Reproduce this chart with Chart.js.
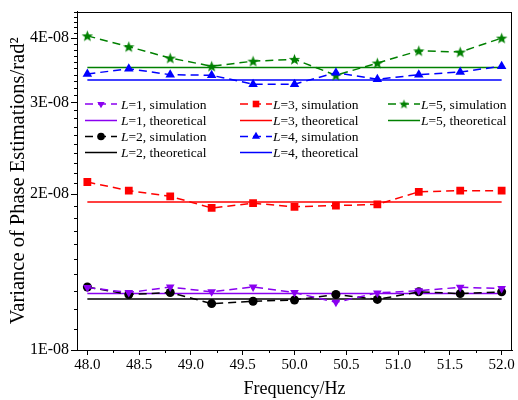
<!DOCTYPE html>
<html><head><meta charset="utf-8">
<script src="https://cdn.jsdelivr.net/npm/chart.js@4"></script>
<style>html,body{margin:0;padding:0;background:#fff}#wrap{width:518px;height:400px}</style>
</head><body><div id="wrap"><canvas id="c"></canvas></div>
<script>
// values in units of 1E-08
const freq=[48.0,48.4,48.8,49.2,49.6,50.0,50.4,50.8,51.2,51.6,52.0];
const simL1=[1.320,1.291,1.323,1.295,1.323,1.291,1.236,1.289,1.302,1.321,1.314];
const simL2=[1.323,1.280,1.291,1.229,1.242,1.249,1.280,1.252,1.295,1.285,1.295];
const simL3=[2.11,2.03,1.98,1.88,1.92,1.89,1.90,1.91,2.02,2.03,2.03];
const simL4=[3.41,3.49,3.40,3.39,3.26,3.26,3.43,3.33,3.40,3.44,3.53];
const simL5=[4.04,3.85,3.66,3.53,3.61,3.64,3.39,3.58,3.78,3.76,4.00];
const theoryL=[1.285,1.254,1.93,3.32,3.51];
const unit=1e-8;
const xTicks=[48.0,48.5,49.0,49.5,50.0,50.5,51.0,51.5,52.0];
const yTicks=[1,2,3,4];
const colors=['#8a00f0','#000000','#ff0000','#0000ff','#008000'];
const FONT='"Liberation Serif", "Times New Roman", serif';

function starImg(col,R){
  const s=Math.ceil(R*2+1),c=document.createElement('canvas');c.width=s;c.height=s;
  const g=c.getContext('2d');g.fillStyle=col;g.beginPath();
  for(let i=0;i<10;i++){const r=i%2?R*0.42:R,a=-Math.PI/2+i*Math.PI/5;
    g.lineTo(s/2+r*Math.cos(a),s/2+R*0.08+r*Math.sin(a));}
  g.closePath();g.fill();return c;
}
const star=starImg(colors[4],6);
const starSmall=starImg(colors[4],5);
const marks=[
  {style:'triangle',rot:180,r:5},
  {style:'circle',rot:0,r:4.5},
  {style:'rect',rot:0,r:5.5},
  {style:'triangle',rot:0,r:5.5},
  {style:star,rot:0,r:6}
];
const sims=[simL1,simL2,simL3,simL4,simL5];

const datasets=[];
sims.forEach((s,i)=>{
  datasets.push({label:'L='+(i+1)+', simulation',data:freq.map((f,j)=>({x:f,y:s[j]*unit})),
    borderColor:colors[i],backgroundColor:colors[i],borderWidth:1.5,borderDash:[8,5],
    pointStyle:marks[i].style,pointRotation:marks[i].rot,pointRadius:marks[i].r,
    pointBorderWidth:0,sim:true,mk:i,order:0});
  datasets.push({label:'L='+(i+1)+', theoretical',
    data:[{x:freq[0],y:theoryL[i]*unit},{x:freq[freq.length-1],y:theoryL[i]*unit}],
    borderColor:colors[i],borderWidth:1.5,pointRadius:0,sim:false,mk:i,order:1});
});

const extras={id:'extras',
  afterDraw(ch){
    const {ctx,chartArea:a,scales:{x,y}}=ch;
    ctx.save();ctx.strokeStyle='#000';ctx.lineWidth=1;
    ctx.strokeRect(Math.round(a.left)+0.5,Math.round(a.top)+0.5,Math.round(a.right-a.left)-1,Math.round(a.bottom-a.top));
    ctx.beginPath();
    for(let v=48.25;v<52.1;v+=0.5){const p=Math.round(x.getPixelForValue(v))+0.5;ctx.moveTo(p,a.bottom);ctx.lineTo(p,a.bottom+3);}
    for(let k=11;k<=45;k++){if(k%10===0)continue;const p=Math.round(y.getPixelForValue(k/10*unit))+0.5;ctx.moveTo(a.left-3,p);ctx.lineTo(a.left,p);}
    ctx.stroke();
    // legend, column-major
    const cols=[[85,121],[240,273],[388,421]];
    const rows=[104,120.5,136.5,152.5];
    ch.data.datasets.forEach((d,n)=>{
      const col=Math.floor(n/4),row=n%4;
      const [lx,tx]=cols[col],ly=rows[row];
      ctx.save();
      ctx.strokeStyle=d.borderColor;ctx.lineWidth=1.5;
      ctx.setLineDash(d.sim?[8,5]:[]);
      ctx.beginPath();ctx.moveTo(lx,ly);ctx.lineTo(lx+32,ly);ctx.stroke();
      ctx.setLineDash([]);
      if(d.sim){const m=marks[d.mk];
        ctx.fillStyle=d.backgroundColor;ctx.strokeStyle=d.backgroundColor;
        const st=typeof m.style==='string'?m.style:starSmall;
        Chart.helpers.drawPoint(ctx,{pointStyle:st,rotation:m.rot,radius:m.r*0.85,borderWidth:0},lx+16,ly);
      }
      ctx.restore();
      ctx.save();ctx.fillStyle='#000';ctx.textBaseline='middle';
      ctx.font='italic 13.5px '+FONT;ctx.fillText('L',tx,ly+1);
      const w=ctx.measureText('L').width;
      ctx.font='13.5px '+FONT;ctx.fillText(d.label.slice(1),tx+w,ly+1);
      ctx.restore();
    });
    ctx.restore();
  }
};

new Chart(document.getElementById('c'),{
  type:'line',
  data:{datasets},
  options:{
    responsive:true,maintainAspectRatio:false,animation:false,
    layout:{padding:{top:3,right:3,left:0,bottom:0}},
    plugins:{legend:{display:false},tooltip:{enabled:false}},
    scales:{
      x:{type:'linear',min:47.9,max:52.1,
        afterBuildTicks:s=>{s.ticks=xTicks.map(v=>({value:v}));},
        afterFit:s=>{s.height=50;},
        ticks:{color:'#000',font:{family:FONT,size:15},padding:1,maxRotation:0,callback:v=>v.toFixed(1)},
        grid:{drawOnChartArea:false,tickLength:5,color:'#000'},
        border:{color:'#000'},
        title:{display:true,text:'Frequency/Hz',color:'#000',font:{family:FONT,size:18},padding:{top:0,bottom:0}}},
      y:{type:'logarithmic',min:1*unit,max:4.5*unit,
        afterBuildTicks:s=>{s.ticks=yTicks.map(v=>({value:v*unit}));},
        afterFit:s=>{s.width=77;},
        ticks:{color:'#000',font:{family:FONT,size:16},padding:2,callback:v=>Math.round(v/unit)+'E-08'},
        grid:{drawOnChartArea:false,tickLength:6,color:'#000'},
        border:{color:'#000'},
        title:{display:true,text:'Variance of Phase Estimations/rad\u00b2',color:'#000',font:{family:FONT,size:20.5},padding:{top:6,bottom:0}}}
    }
  },
  plugins:[extras]
});
</script></body></html>
